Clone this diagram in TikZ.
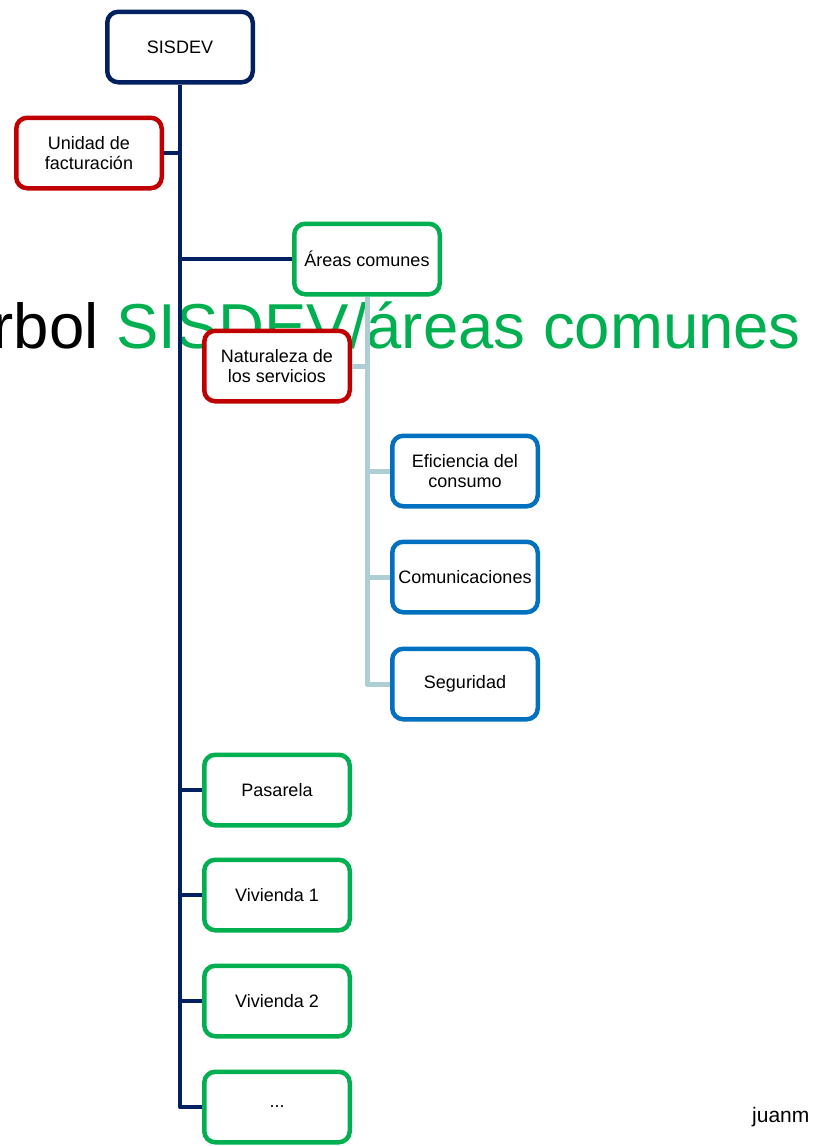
\documentclass[tikz,border=0pt]{standalone}
\usepackage{fontspec}
\setmainfont{Liberation Sans}
\usepackage{xcolor}
\usepackage{tikz}
\usetikzlibrary{shapes}
\usetikzlibrary{calc}
\definecolor{navy}{HTML}{002060}
\definecolor{darkred}{HTML}{C00000}
\definecolor{leafgreen}{HTML}{00B050}
\definecolor{midblue}{HTML}{0070C0}
\definecolor{paleteal}{HTML}{AECED3}
\tikzset{ tree_box/.style = {rectangle, rounded corners=11pt, draw, line width=4.5pt, fill=white, align=center, minimum width=145.5pt, minimum height=70.5pt, inner sep=2pt, font=\fontsize{18}{20.5}\selectfont} }
\tikzset{ trunk/.style = {draw=navy, line width=4.5pt, line join=round} }
\tikzset{ twig/.style = {draw=paleteal, line width=5pt, line join=round} }

\begin{document}
\begin{tikzpicture}[x=1pt, y=-1pt]
            \useasboundingbox (0,0) rectangle (817,1146);
            \node[anchor=base east, inner sep=0pt, text=leafgreen, font=\fontsize{63.5}{70}\selectfont] (title) at (801,348) {\textcolor{black}{Árbol} SISDEV/áreas comunes};
            \node[tree_box, draw=navy] (0) at (180,47) {SISDEV};
            \node[tree_box, draw=darkred] (1) at (89,153) {Unidad de\\facturación};
            \node[tree_box, draw=leafgreen] (2) at (367,259) {Áreas comunes};
            \node[tree_box, draw=darkred] (3) at (277,366) {Naturaleza de\\los servicios};
            \node[tree_box, draw=midblue] (4) at (465,471) {Eficiencia del\\consumo};
            \node[tree_box, draw=midblue] (5) at (465,577) {Comunicaciones};
            \node[tree_box, draw=midblue] (6) at (465,684) {Seguridad};
            \node[tree_box, draw=leafgreen] (7) at (277,790) {Pasarela};
            \node[tree_box, draw=leafgreen] (8) at (277,895) {Vivienda 1};
            \node[tree_box, draw=leafgreen] (9) at (277,1001) {Vivienda 2};
            \node[tree_box, draw=leafgreen] (10) at (277,1107) {...};
            \node[anchor=base west, inner sep=0pt, font=\fontsize{21}{24}\selectfont] (sign) at (752,1122) {juanm};
            \draw[trunk] (0.south) |- (10.west);
            \draw[trunk] (1.east) to (1.east -| 0.south);
            \draw[trunk] (2.west) to (2.west -| 0.south);
            \draw[trunk] (7.west) to (7.west -| 0.south);
            \draw[trunk] (8.west) to (8.west -| 0.south);
            \draw[trunk] (9.west) to (9.west -| 0.south);
            \draw[twig] (2.south) |- (6.west);
            \draw[twig] (3.east) to (3.east -| 2.south);
            \draw[twig] (4.west) to (4.west -| 2.south);
            \draw[twig] (5.west) to (5.west -| 2.south);
        \end{tikzpicture}
\end{document}
